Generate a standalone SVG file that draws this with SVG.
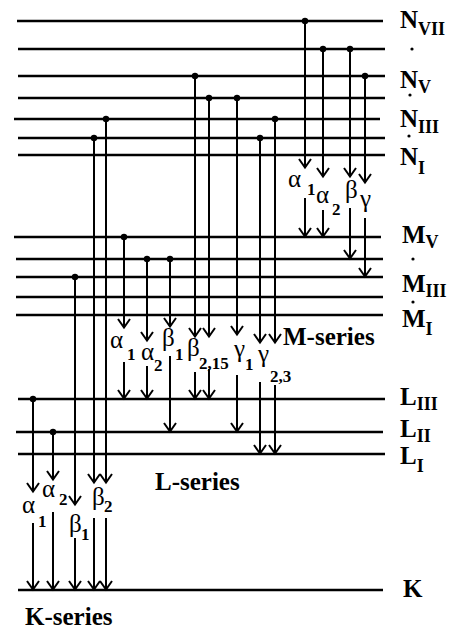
<svg xmlns="http://www.w3.org/2000/svg" width="451" height="629" viewBox="0 0 451 629">
<style>
.lvl{stroke:#000;stroke-width:2.6;fill:none}
.tr{stroke:#000;stroke-width:2;fill:none;marker-end:url(#ah)}
.lb{font-family:"Liberation Serif","Times New Roman",serif;font-weight:bold;font-size:25px;fill:#000}
.ls{font-family:"Liberation Serif","Times New Roman",serif;font-weight:bold;font-size:18px;fill:#000}
.gk{font-family:"Liberation Serif","Times New Roman",serif;font-size:25px;fill:#000}
.sb{font-weight:bold;font-size:17px}
.sr{font-family:"Liberation Serif","Times New Roman",serif;font-weight:bold;font-size:25px;fill:#000}
</style>
<defs>
<marker id="ah" markerUnits="userSpaceOnUse" viewBox="-10 -7 12 14" refX="0.5" refY="0" markerWidth="12" markerHeight="14" orient="auto">
<path d="M-8.5,-6 L0,0 L-8.5,6" stroke="#000" stroke-width="2" fill="none"/>
</marker>
</defs>
<rect width="451" height="629" fill="#fff"/>
<g id="levels">
<g id="N7"><line class="lvl" x1="17" y1="21" x2="383" y2="21"/><text class="lb" x="400" y="28">N<tspan class="ls" dy="7">VII</tspan></text></g>
<g id="N6"><line class="lvl" x1="18" y1="49" x2="385" y2="49"/><circle cx="412" cy="49" r="1.6"/></g>
<g id="N5"><line class="lvl" x1="18" y1="76" x2="385" y2="76"/><text class="lb" x="400" y="88">N<tspan class="ls" dy="5">V</tspan></text></g>
<g id="N4"><line class="lvl" x1="18" y1="98" x2="385" y2="98"/><circle cx="410" cy="95" r="1.6"/></g>
<g id="N3"><line class="lvl" x1="14" y1="119" x2="380" y2="119"/><text class="lb" x="400" y="127">N<tspan class="ls" dy="6">III</tspan></text></g>
<g id="N2"><line class="lvl" x1="18" y1="138" x2="385" y2="138"/><circle cx="409" cy="136" r="1.6"/></g>
<g id="N1"><line class="lvl" x1="18" y1="155" x2="385" y2="155"/><text class="lb" x="400" y="165">N<tspan class="ls" dy="9">I</tspan></text></g>
<g id="M5"><line class="lvl" x1="14" y1="237" x2="381" y2="237"/><text class="lb" x="402" y="243">M<tspan class="ls" dy="5">V</tspan></text></g>
<g id="M4"><line class="lvl" x1="16" y1="259" x2="383" y2="259"/><circle cx="413" cy="259" r="1.6"/></g>
<g id="M3"><line class="lvl" x1="16" y1="277" x2="383" y2="277"/><text class="lb" x="402" y="292">M<tspan class="ls" dy="5">III</tspan></text></g>
<g id="M2"><line class="lvl" x1="16" y1="297" x2="383" y2="297"/><circle cx="413" cy="302" r="1.6"/></g>
<g id="M1"><line class="lvl" x1="16" y1="315" x2="383" y2="315"/><text class="lb" x="402" y="327">M<tspan class="ls" dy="8">I</tspan></text></g>
<g id="L3"><line class="lvl" x1="18" y1="399" x2="385" y2="399"/><text class="lb" x="400" y="405">L<tspan class="ls" dy="5">III</tspan></text></g>
<g id="L2"><line class="lvl" x1="16" y1="432" x2="383" y2="432"/><text class="lb" x="400" y="437">L<tspan class="ls" dy="5">II</tspan></text></g>
<g id="L1"><line class="lvl" x1="18" y1="454" x2="385" y2="454"/><text class="lb" x="400" y="464">L<tspan class="ls" dy="8">I</tspan></text></g>
<g id="K"><line class="lvl" x1="18" y1="590" x2="383" y2="590"/><text class="lb" x="403" y="597">K</text></g>
</g>
<g id="connectors">
<g id="M-transitions">
<circle cx="305" cy="21" r="3.2"/><path class="tr" d="M305,21V168"/><path class="tr" d="M305,198V237"/>
<circle cx="323" cy="49" r="3.2"/><path class="tr" d="M323,49V177"/><path class="tr" d="M323,210V237"/>
<circle cx="350" cy="49" r="3.2"/><path class="tr" d="M350,49V177"/><path class="tr" d="M350,208V259"/>
<circle cx="365" cy="76" r="3.2"/><path class="tr" d="M365,76V183"/><path class="tr" d="M365,218V277"/>
</g>
<g id="L-transitions">
<circle cx="124" cy="237" r="3.2"/><path class="tr" d="M124,237V328"/><path class="tr" d="M124,362V399"/>
<circle cx="147" cy="259" r="3.2"/><path class="tr" d="M147,259V341"/><path class="tr" d="M147,366V399"/>
<circle cx="170" cy="259" r="3.2"/><path class="tr" d="M170,259V327"/><path class="tr" d="M170,356V432"/>
<circle cx="195" cy="76" r="3.2"/><path class="tr" d="M195,76V337"/><path class="tr" d="M195,372V399"/>
<circle cx="209" cy="98" r="3.2"/><path class="tr" d="M209,98V337"/><path class="tr" d="M209,369V399"/>
<circle cx="237" cy="98" r="3.2"/><path class="tr" d="M237,98V335"/><path class="tr" d="M237,375V432"/>
<circle cx="260" cy="138" r="3.2"/><path class="tr" d="M260,138V343"/><path class="tr" d="M260,382V454"/>
<circle cx="275" cy="119" r="3.2"/><path class="tr" d="M275,119V343"/><path class="tr" d="M275,385V454"/>
</g>
<g id="K-transitions">
<circle cx="33" cy="399" r="3.2"/><path class="tr" d="M33,399V492"/><path class="tr" d="M33,523V590"/>
<circle cx="53" cy="432" r="3.2"/><path class="tr" d="M53,432V480"/><path class="tr" d="M53,512V590"/>
<circle cx="75" cy="277" r="3.2"/><path class="tr" d="M75,277V505"/><path class="tr" d="M75,538V590"/>
<circle cx="94" cy="138" r="3.2"/><path class="tr" d="M94,138V483"/><path class="tr" d="M94,518V590"/>
<circle cx="106" cy="119" r="3.2"/><path class="tr" d="M106,119V483"/><path class="tr" d="M106,518V590"/>
</g>
</g>
<g id="transition-labels">
<text class="gk" x="288" y="187">α<tspan class="sb" x="307" y="195">1</tspan></text>
<text class="gk" x="316" y="203">α<tspan class="sb" x="332" y="215">2</tspan></text>
<text class="gk" x="345" y="198">β</text>
<text class="gk" x="360" y="207">γ</text>
<text class="gk" x="110" y="348">α<tspan class="sb" x="127" y="360">1</tspan></text>
<text class="gk" x="141" y="360">α<tspan class="sb" x="154" y="371">2</tspan></text>
<text class="gk" x="162" y="346">β<tspan class="sb" x="175" y="360">1</tspan></text>
<text class="gk" x="187" y="356">β<tspan class="sb" x="199" y="369">2,15</tspan></text>
<text class="gk" x="234" y="357">γ<tspan class="sb" x="245" y="370">1</tspan></text>
<text class="gk" x="258" y="362">γ<tspan class="sb" x="270" y="382">2,3</tspan></text>
<text class="gk" x="22" y="513">α<tspan class="sb" x="38" y="527">1</tspan></text>
<text class="gk" x="42" y="497">α<tspan class="sb" x="59" y="505">2</tspan></text>
<text class="gk" x="69" y="532">β<tspan class="sb" x="81" y="540">1</tspan></text>
<text class="gk" x="92" y="505">β<tspan class="sb" x="104" y="512">2</tspan></text>
</g>
<g id="series-labels">
<text class="sr" x="283" y="345" font-size="26">M-series</text>
<text class="sr" x="155" y="490">L-series</text>
<text class="sr" x="25" y="625">K-series</text>
</g>
</svg>
